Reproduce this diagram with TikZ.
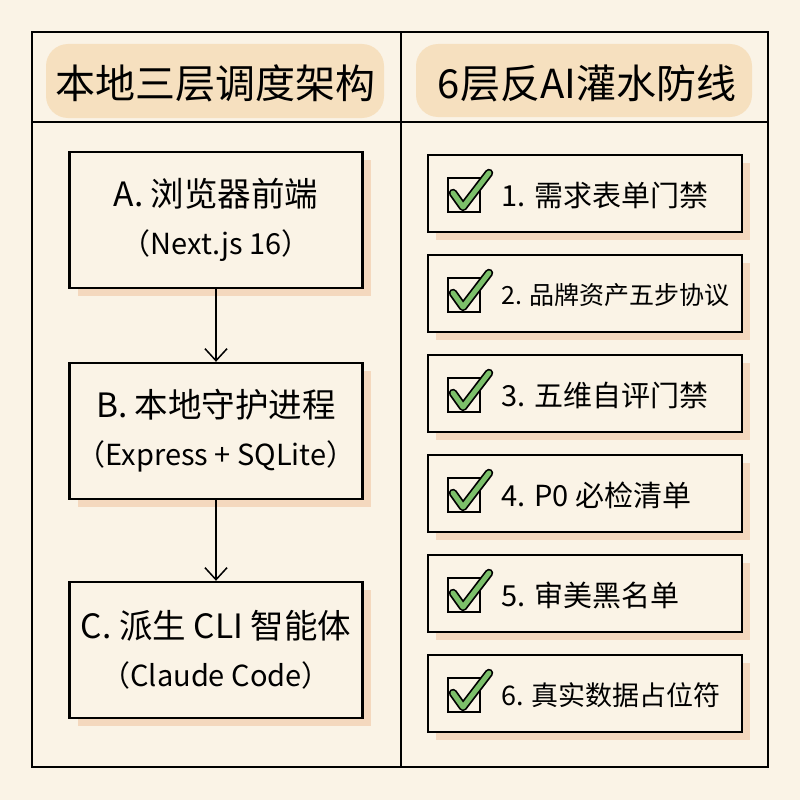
\documentclass[tikz,border=0pt]{standalone}
\usepackage{fontspec}
\setmainfont{Noto Sans CJK SC}
\usetikzlibrary{positioning,arrows.meta,shadows}
\definecolor{paper}{HTML}{FAF3E6}
\definecolor{peach}{HTML}{F6DCB6}
\definecolor{shade}{HTML}{F2CBAA}
\definecolor{tick}{HTML}{7CC06A}

\tikzset{
  headtext/.style={font=\fontsize{40}{46}\selectfont},
  layerbox/.style={draw, fill=paper, line width=2.4pt, minimum width=293pt, minimum height=136pt,
    align=center, font=\fontsize{33.5}{48}\selectfont,
    drop shadow={shadow xshift=8pt, shadow yshift=-8pt, fill=shade, opacity=.65}},
  gatebox/.style={draw, fill=paper, line width=2.2pt, minimum width=314pt, minimum height=77pt,
    drop shadow={shadow xshift=8pt, shadow yshift=-8pt, fill=shade, opacity=.65}},
  tickbox/.style={draw, line width=1.6pt, minimum width=32pt, minimum height=34pt, inner sep=0pt},
}

\begin{document}
\begin{tikzpicture}[x=1pt,y=-1pt,>={Straight Barb[length=12pt,width=22pt]}]
\useasboundingbox (0,0) rectangle (800,800);
\fill[paper] (0,0) rectangle (800,800);
% header highlights
\fill[peach,opacity=.8,rounded corners=22pt] (46,44) rectangle (384,118);
\fill[peach,opacity=.8,rounded corners=22pt] (416,44) rectangle (752,117);
% frame
\draw[line width=1.7pt] (32,32) rectangle (768,767);
\draw[line width=1.7pt] (32,122) -- (768,122);
\draw[line width=1.7pt] (401,32) -- (401,767);
\node[headtext] (h1) at (215,83) {本地三层调度架构};
\node[headtext] (h2) at (587,83) {6层反AI灌水防线};
% left column
\node[layerbox] (a) at (216,220) {A. 浏览器前端\\{\fontsize{29}{48}\selectfont （Next.js 16）}};
\node[layerbox] (b) at (216,431) {B. 本地守护进程\\{\fontsize{29}{48}\selectfont （Express + SQLite）}};
\node[layerbox] (c) at (216,650) {C. 派生 CLI 智能体\\{\fontsize{29}{48}\selectfont （Claude Code）}};
\draw[->,line width=1.5pt] (a) -- (b);
\draw[->,line width=1.5pt] (b) -- (c);
% right column
\foreach \i/\fs/\txt in {1/29/需求表单门禁,2/25/品牌资产五步协议,3/29/五维自评门禁,4/29/P0 必检清单,5/29/审美黑名单,6/27/真实数据占位符}{
  \node[gatebox] (g\i) at (585,{193.5+100*(\i-1)}) {};
  \node[tickbox] (k\i) at (464,{195+100*(\i-1)}) {};
  \node[font=\fontsize{\fs}{\fs}\selectfont,right=17pt of k\i] (t\i) {\i. \txt};
  \draw[line width=8.5pt,line cap=round,line join=round]
    ([shift={(-11,-2)}]k\i.center) -- ([shift={(-1,12)}]k\i.center) -- ([shift={(25,-22)}]k\i.center);
  \draw[tick,line width=5pt,line cap=round,line join=round]
    ([shift={(-11,-2)}]k\i.center) -- ([shift={(-1,12)}]k\i.center) -- ([shift={(25,-22)}]k\i.center);
}
\end{tikzpicture}
\end{document}
